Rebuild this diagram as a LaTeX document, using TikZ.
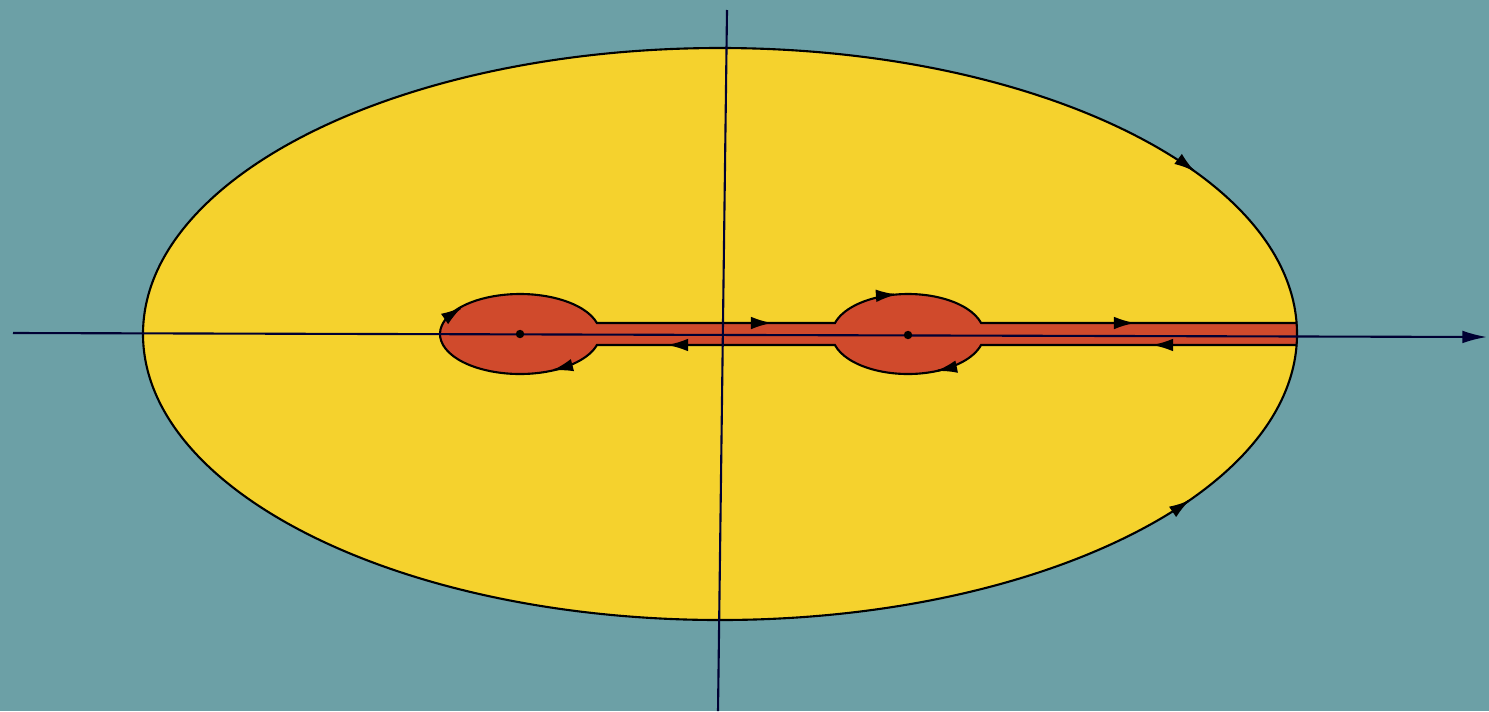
\documentclass[tikz,border=0pt]{standalone}
\usetikzlibrary{arrows.meta}
\definecolor{bgteal}{RGB}{108,160,166}
\definecolor{sun}{RGB}{245,210,45}
\definecolor{brick}{RGB}{208,74,44}
\begin{document}
\begin{tikzpicture}[x=0.01cm,y=0.01cm,
  outline/.style={line width=0.6pt, draw=black},
  axisline/.style={line width=0.6pt, draw=black!80!blue},
  tipmark/.style={-{Latex[length=6pt,width=3.6pt]}, line width=0.6pt},
  polept/.style={fill=black, inner sep=0pt, minimum size=8\pgflinewidth, circle}]
\fill[bgteal] (0,0) rectangle (1489,711);
\useasboundingbox (0,0) rectangle (1489,711);
% region
\fill[sun] (720,377) ellipse [x radius=577, y radius=286];
% keyhole around the cuts
\fill[brick] (1297,388) -- (981.1,388)
  arc[start angle=15.96, end angle=164.04, x radius=76, y radius=40]
  -- (596.9,388)
  arc[start angle=15.96, end angle=344.04, x radius=80, y radius=40]
  -- (834.9,366)
  arc[start angle=195.96, end angle=344.04, x radius=76, y radius=40]
  -- (1297,366) -- cycle;
\draw[outline] (1297,388) -- (981.1,388)
  arc[start angle=15.96, end angle=164.04, x radius=76, y radius=40]
  -- (596.9,388)
  arc[start angle=15.96, end angle=344.04, x radius=80, y radius=40]
  -- (834.9,366)
  arc[start angle=195.96, end angle=344.04, x radius=76, y radius=40]
  -- (1297,366);
\draw[outline] (720,377) ellipse [x radius=577, y radius=286];
% axes
\coordinate (xs) at (13,378);
\coordinate (xe) at (1487,374);
\coordinate (ys) at (727,701);
\coordinate (ye) at (718,0);
\draw[axisline, -{Latex[length=7pt,width=3.6pt]}] (xs) -- (xe);
\draw[axisline] (ys) -- (ye);
% poles
\node[circle, fill=black, inner sep=0pt, minimum size=2.4pt] (p1) at (520,377) {};
\node[circle, fill=black, inner sep=0pt, minimum size=2.4pt] (p2) at (908,376) {};
% direction marks
\draw[tipmark] (460.4,402.9) -- (462,404);
\draw[tipmark] (553.9,341) -- (552,340.5);
\draw[tipmark] (670,366) -- (667,366);
\draw[tipmark] (769,388) -- (772,388);
\draw[tipmark] (894,416.4) -- (897,416.6);
\draw[tipmark] (937.9,340.4) -- (936,340);
\draw[tipmark] (1132,388) -- (1135,388);
\draw[tipmark] (1155,366) -- (1152,366);
\draw[tipmark] (1193.4,540.6) -- (1195,539.4);
\draw[tipmark] (1188.4,210) -- (1190,211.1);
\end{tikzpicture}
\end{document}
